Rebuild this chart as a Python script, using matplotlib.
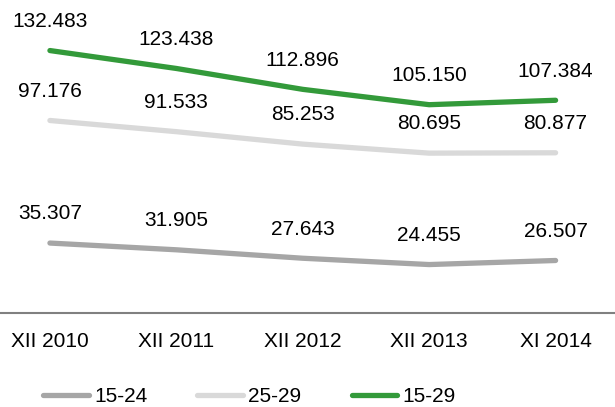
import numpy as np
import matplotlib
matplotlib.use("Agg")
import matplotlib.pyplot as plt

plt.rcParams['font.family'] = ['Liberation Sans', 'DejaVu Sans']

periods = ['XII 2010', 'XII 2011', 'XII 2012', 'XII 2013', 'XI 2014']
age_15_24 = [35.307, 31.905, 27.643, 24.455, 26.507]
age_25_29 = [97.176, 91.533, 85.253, 80.695, 80.877]
age_15_29 = [132.483, 123.438, 112.896, 105.150, 107.384]

series = [
    ('15-24', age_15_24, '#a6a6a6'),
    ('25-29', age_25_29, '#d9d9d9'),
    ('15-29', age_15_29, '#339a3a'),
]

fig = plt.figure(figsize=(6.15, 4.07), dpi=100)
ax = fig.add_axes([0, 1 - 313 / 407, 1, 313 / 407])

x = np.arange(len(periods))
for name, vals, col in series:
    ax.plot(x, vals, color=col, lw=3.8, solid_capstyle='round',
            solid_joinstyle='round', label=name)
    for xi, v in zip(x, vals):
        ax.annotate(f"{v:.3f}", (xi, v), xytext=(0, 21), textcoords='offset points',
                    ha='center', va='center', fontsize=15, color='#000000')

ax.set_xlim(-0.395, 4.47)
ax.set_ylim(0, 158)
ax.set_xticks(x)
ax.set_xticklabels(periods, fontsize=15)
ax.set_yticks([])
ax.tick_params(axis='x', length=0, pad=14)
for s in ['top', 'right', 'left']:
    ax.spines[s].set_visible(False)
ax.spines['bottom'].set_color('#808080')
ax.spines['bottom'].set_linewidth(1.5)

leg = fig.legend(loc='center left', bbox_to_anchor=(0.07, 1 - 397 / 407), ncol=3,
                 frameon=False, fontsize=15, handlelength=2.2, handletextpad=0.25,
                 columnspacing=2.4, borderaxespad=0, borderpad=0)

fig.savefig('out.png', dpi=100)
